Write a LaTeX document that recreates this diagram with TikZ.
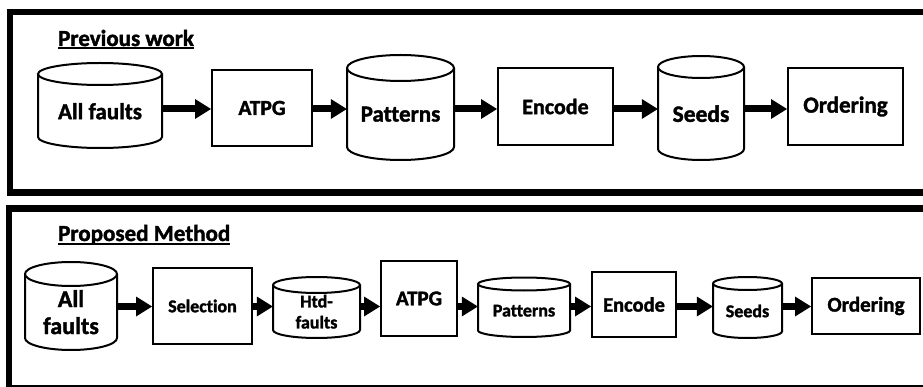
\documentclass[tikz,border=0pt]{standalone}
\usepackage{fontspec}
\setmainfont{Carlito}[Ligatures=NoCommon, BoldFeatures={FakeBold=1.6}]
\usetikzlibrary{arrows.meta}

% bold label text at a given size and line spacing
\newcommand\txt[2]{\bfseries\fontsize{#1}{#2}\selectfont}

\tikzset{
  outline/.style={draw=black, line width=2pt},
  box/.style={outline, fill=white, rectangle, inner sep=0pt, align=center},
  drumtext/.style={inner sep=0pt, align=center},
  flow/.style={line width=7pt, -{Triangle[length=16pt,width=20pt,line width=0pt]}},
  frame/.style={line width=6.5pt, line cap=butt, line join=miter},
  heading/.style={inner sep=0pt, anchor=base west, font=\txt{23}{27}},
  headrule/.style={line width=2pt},
}

% database drum: name, cx, top-ellipse y, bottom-ellipse y, rx, ry, font, text
\newcommand\drum[8]{%
  \draw[outline] ({#2-#5},#3) -- ({#2-#5},#4)
        arc[start angle=180, end angle=0, x radius=#5, y radius=#6]
        -- ({#2+#5},#3);
  \draw[outline, fill=white] (#2,#3) ellipse[x radius=#5, y radius=#6];
  \node[drumtext, font={#7}, minimum width={2*#5}, minimum height={#4-#3-#6},
        anchor=north] (#1) at (#2,{#3+#6}) {#8};
}

\begin{document}
\begin{tikzpicture}[x=1pt, y=-1pt]
  \useasboundingbox (0,0) rectangle (923,387);

  % panel frames
  \draw[frame] (930,12) -- (10,12) -- (10,192.5) -- (930,192.5);
  \draw[frame] (930,208.5) -- (9,208.5) -- (9,388) -- (930,388);

  % ---------------- previous work ----------------
  \node[heading] (prev) at (58,46) {Previous work};
  \draw[headrule] ([yshift=-2.5pt]prev.base west) -- ([yshift=-2.5pt]prev.base east);

  \coordinate (rowA) at (0,109);
  \drum{allA}{100}{74}{137}{62}{11}{\txt{23}{27}}{All faults}
  \node[box, minimum width=100, minimum height=76, font=\txt{21.5}{25}] (atpgA) at (262,108) {ATPG};
  \drum{patA}{400.5}{68}{147}{53.5}{13}{\txt{23}{27}}{Patterns}
  \node[box, minimum width=115, minimum height=77, font=\txt{22}{26}] (encA) at (555.5,106.5) {Encode};
  \drum{seedA}{701}{67}{149}{43}{11}{\txt{23.5}{27}}{Seeds}
  \node[box, minimum width=115, minimum height=77, font=\txt{23}{27}] (ordA) at (845.5,106.5) {Ordering};

  \draw[flow] (allA.east |- rowA) -- (atpgA.west |- rowA);
  \draw[flow] (atpgA.east |- rowA) -- (patA.west |- rowA);
  \draw[flow] (patA.east |- rowA) -- (encA.west |- rowA);
  \draw[flow] (encA.east |- rowA) -- (seedA.west |- rowA);
  \draw[flow] (seedA.east |- rowA) -- (ordA.west |- rowA);

  % ---------------- proposed method ----------------
  \node[heading] (prop) at (58,241) {Proposed Method};
  \draw[headrule] ([yshift=-3pt]prop.base west) -- ([yshift=-3pt]prop.base east);

  \coordinate (rowB) at (0,306.5);
  \drum{allB}{71}{274}{338}{46}{12}{\txt{24}{27}}{All\\faults}
  \node[box, minimum width=99, minimum height=76, font=\txt{18}{21}] (selB) at (202.5,306) {Selection};
  \drum{htdB}{316.5}{285}{330}{43.5}{8}{\txt{18}{21}}{Htd-\\faults}
  \node[box, minimum width=76, minimum height=75, font=\txt{21}{25}] (atpgB) at (419,298.5) {ATPG};
  \drum{patB}{524}{284}{330.5}{46}{6.5}{\txt{18}{21}}{Patterns}
  \node[box, minimum width=84, minimum height=65, font=\txt{20.5}{24}] (encB) at (634,304.5) {Encode};
  \drum{seedB}{747.5}{283.5}{331.5}{34.5}{6.5}{\txt{18}{21}}{Seeds}
  \node[box, minimum width=108, minimum height=56, font=\txt{21}{25}] (ordB) at (866,306) {Ordering};

  \draw[flow] (allB.east |- rowB) -- (selB.west |- rowB);
  \draw[flow] (selB.east |- rowB) -- (htdB.west |- rowB);
  \draw[flow] (htdB.east |- rowB) -- (atpgB.west |- rowB);
  \draw[flow] (atpgB.east |- rowB) -- (patB.west |- rowB);
  \draw[flow] (patB.east |- rowB) -- (encB.west |- rowB);
  \draw[flow] (encB.east |- rowB) -- (seedB.west |- rowB);
  \draw[flow] (seedB.east |- rowB) -- (ordB.west |- rowB);
\end{tikzpicture}
\end{document}
